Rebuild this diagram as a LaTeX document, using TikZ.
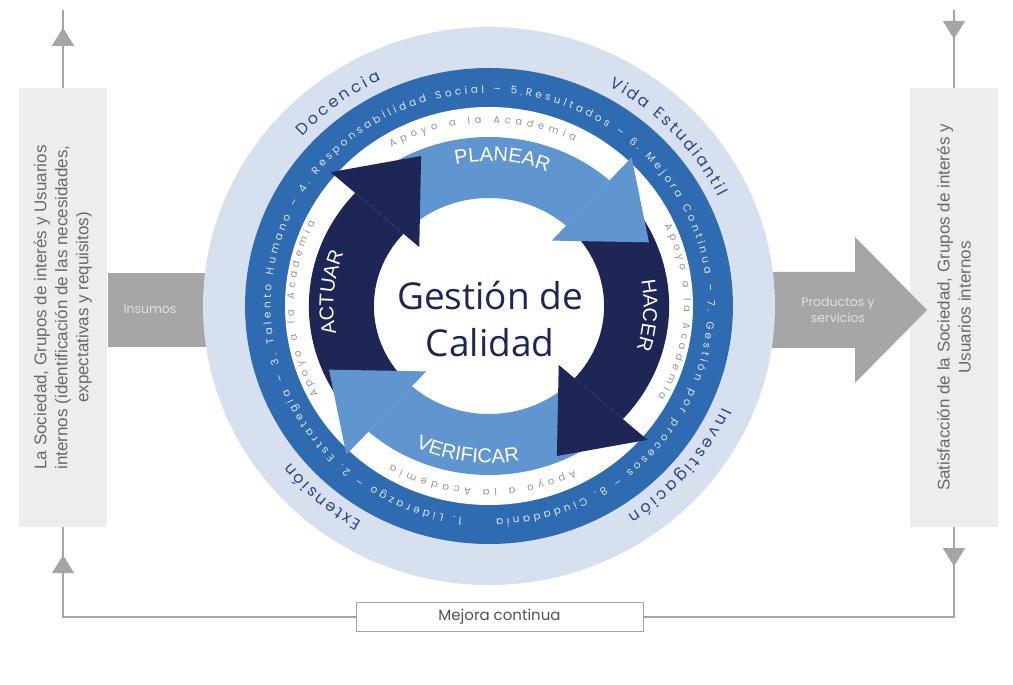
\documentclass[tikz,border=0pt]{standalone}
\usepackage{fontspec}
\setmainfont{Liberation Sans}
\newfontfamily\ringfont{Poppins}
\newfontfamily\centerfont{Open Sans}
\usetikzlibrary{decorations.text,decorations.markings,arrows.meta}
\definecolor{outerring}{RGB}{215,224,239}
\definecolor{midring}{RGB}{47,107,176}
\definecolor{arrowlight}{RGB}{96,150,207}
\definecolor{arrowdark}{RGB}{30,38,86}
\definecolor{outertxt}{RGB}{44,72,128}
\definecolor{midtxt}{RGB}{220,230,243}
\definecolor{apoyotxt}{RGB}{160,148,138}
\definecolor{boxgray}{RGB}{237,237,238}
\definecolor{bargray}{RGB}{166,166,166}
\definecolor{linegray}{RGB}{165,165,165}
\definecolor{boxtxt}{RGB}{105,105,105}
\newcommand{\ringtext}[5]{\path[decorate,decoration={text along path,text={|#4|#5},text align=fit to path}] (#2:#1) arc[start angle=#2,end angle=#3,radius=#1];}
\newcommand{\steplabel}[4]{\path[decorate,decoration={text along path,text={|\fontsize{20}{24}\selectfont\color{white}|#4},text align=center}] (#2:#1) arc[start angle=#2,end angle=#3,radius=#1];}
\begin{document}
\begin{tikzpicture}[x=1pt,y=1pt,
  sidebox/.style={fill=boxgray, minimum width=88pt, minimum height=439pt, inner sep=0pt},
  sidetext/.style={font=\fontsize{17}{21}\selectfont, text=boxtxt, align=center, rotate=90},
  flow/.style={draw=linegray, line width=1.3pt},
  tri/.style={postaction={decorate}, decoration={markings, mark=at position #1 with {\arrow[linegray]{Triangle[width=22pt,length=18pt]}}}},
  bartext/.style={font=\ringfont\fontsize{12.5}{16}\selectfont, text=white!88!black, align=center}
]
\useasboundingbox (0,0) rectangle (1013,685);
\fill[white] (0,0) rectangle (1013,685);

\node[sidebox] (lbox) at (63,377.5) {};
\node[sidetext] (ltext) at (lbox.center) {La Sociedad, Grupos de interés y Usuarios\\internos (identificación de las necesidades,\\expectativas y requisitos)};
\node[sidebox] (rbox) at (954,377.5) {};
\node[sidetext] (rtext) at (rbox.center) {Satisfacción de la Sociedad, Grupos de interés y\\Usuarios internos};
\node[draw=linegray, line width=1pt, fill=white, minimum width=287pt, minimum height=29pt,
  font=\ringfont\fontsize{15}{18}\selectfont, text=black!68] (mejora) at (499.5,68) {Mejora continua};

\coordinate (ltop) at (63,675);
\coordinate (rtop) at (954,675);
\draw[flow, tri=60pt] (lbox.north) -- (ltop);
\draw[flow, tri=-28pt] (mejora.west) -| (lbox.south);
\draw[flow, tri=39pt] (rbox.south) |- (mejora.east);
\draw[flow, tri=29pt] (rtop) -- (rbox.north);

\node[fill=bargray, minimum width=110pt, minimum height=74pt, inner sep=0pt, anchor=west] (insumos) at (108,375) {};
\node[bartext] (insumostxt) at (150,376) {Insumos};
\fill[bargray] (740,337) -- (855,337) -- (855,302) -- (927,375) -- (855,448) -- (855,413) -- (740,413) -- cycle;
\node[bartext] (prodtxt) at (838,375) {Productos y\\servicios};

\begin{scope}[shift={(489,379)}, xscale=1.025]
\fill[outerring] (0,0) circle[radius=279];
\fill[midring] (0,0) circle[radius=238];
\fill[white] (0,0) circle[radius=199];
\ringtext{249}{137}{115}{\ringfont\fontsize{16}{18}\selectfont\color{outertxt}}{Docencia}
\ringtext{249}{62}{26}{\ringfont\fontsize{16}{18}\selectfont\color{outertxt}}{Vida Estudiantil}
\ringtext{249}{-24}{-57}{\ringfont\fontsize{16}{18}\selectfont\color{outertxt}}{Investigación}
\ringtext{249}{-120}{-141}{\ringfont\fontsize{16}{18}\selectfont\color{outertxt}}{Extensión}
\ringtext{213}{-97}{-448}{\ringfont\fontsize{10.5}{12}\selectfont\color{midtxt}}{1. Liderazgo – 2. Estrategia – 3. Talento Humano – 4. Responsabilidad Social – 5.Resultados – 6. Mejora Continua – 7. Gestión por procesos – 8. Ciudadania}
\begin{scope}[xscale=1.04]
\foreach \ang/\col in {48/arrowlight,-42/arrowdark,-132/arrowlight,138/arrowdark}
  \fill[\col] (\ang+86:169) arc[start angle=\ang+86,end angle=\ang,radius=169] -- (\ang:108) arc[start angle=\ang,end angle=\ang+86,radius=108] -- cycle;
\foreach \ang/\col in {48/arrowlight,-42/arrowdark,-132/arrowlight,138/arrowdark}
  \fill[\col] (\ang:200) -- (\ang-25:163) -- (\ang:88) -- cycle;
\foreach \apoyomid in {92,-2,-92,181}{
  \ringtext{183}{\apoyomid+28}{\apoyomid-28}{\ringfont\fontsize{10}{12}\selectfont\color{apoyotxt}}{Apoyo a la Academia}
}
\steplabel{145}{130}{40}{PLANEAR}
\steplabel{145}{40}{-47}{HACER}
\steplabel{146}{220}{130}{ACTUAR}
\steplabel{157}{-143}{-53}{VERIFICAR}
\end{scope}
\node[font=\centerfont\fontsize{37}{47}\selectfont, text=arrowdark, align=center] (gestion) at (1,-13) {Gestión de\\Calidad};
\end{scope}
\end{tikzpicture}
\end{document}
